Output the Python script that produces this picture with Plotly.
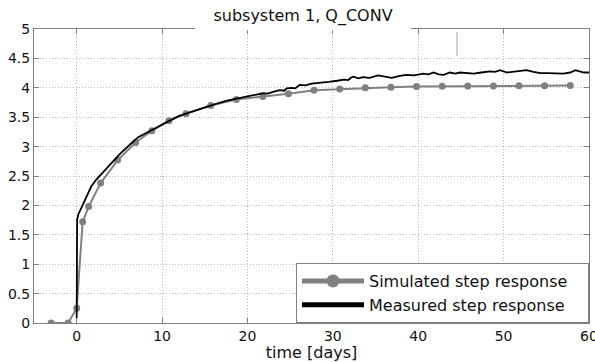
import plotly.graph_objects as go

# ---- data ----
sim_t = [-3, -1, 0, 0.7, 1.4, 2.8, 4.8, 6.9, 8.8, 10.8, 12.8, 15.7, 18.7, 21.8, 24.8,
         27.8, 30.8, 33.8, 36.8, 39.8, 42.8, 45.8, 48.8, 51.8, 54.8, 57.8]
sim_y = [0, 0, 0.25, 1.72, 1.98, 2.38, 2.77, 3.07, 3.27, 3.44, 3.56, 3.70, 3.80, 3.85, 3.90,
         3.96, 3.98, 4.00, 4.01, 4.02, 4.025, 4.03, 4.03, 4.035, 4.035, 4.04]

meas_t = [0, 0.02, 0.05, 0.2, 0.55, 1.0, 1.7, 2.3, 2.9, 3.6, 4.45, 5.1, 5.8, 6.5, 7.2, 8.0,
          9.0, 10.0, 10.9, 11.8, 12.8, 13.8, 14.7, 15.6, 16.6, 17.6, 18.7, 19.7, 20.6, 21.2,
          21.8, 22.4, 23.0, 23.8, 24.3, 24.6, 25.2, 25.6, 26.1, 26.8, 27.5, 28.5, 29.5, 30.5,
          31.3, 31.8, 32.1, 32.4, 33.0, 33.5, 34.3, 35.3, 36.1, 36.9, 37.7, 38.6, 39.5, 40.6,
          41.2, 41.8, 42.4, 43.0, 43.7, 44.3, 44.9, 45.7, 46.5, 47.4, 48.4, 49.0, 49.6, 50.4,
          51.2, 52.0, 52.7, 53.5, 54.3, 55.2, 56.2, 57.0, 57.8, 58.4, 58.9, 59.4, 60.0]
meas_y = [0.08, 1.0, 1.76, 1.85, 1.96, 2.10, 2.32, 2.44, 2.53, 2.65, 2.78, 2.88, 2.98, 3.07,
          3.16, 3.22, 3.30, 3.38, 3.45, 3.51, 3.56, 3.61, 3.65, 3.70, 3.74, 3.78, 3.81, 3.84,
          3.87, 3.89, 3.91, 3.90, 3.93, 3.96, 3.95, 3.99, 4.00, 3.99, 4.05, 4.04, 4.07, 4.08,
          4.10, 4.12, 4.14, 4.13, 4.17, 4.19, 4.16, 4.18, 4.17, 4.21, 4.19, 4.17, 4.20, 4.22,
          4.21, 4.24, 4.23, 4.26, 4.23, 4.22, 4.26, 4.24, 4.26, 4.25, 4.24, 4.26, 4.28, 4.27,
          4.30, 4.26, 4.27, 4.28, 4.30, 4.27, 4.25, 4.25, 4.24, 4.24, 4.26, 4.30, 4.28, 4.26, 4.26]

x_ticks = [0, 10, 20, 30, 40, 50, 60]
y_ticks = [0, 0.5, 1, 1.5, 2, 2.5, 3, 3.5, 4, 4.5, 5]

GRAY = "#808080"
FONT = "DejaVu Sans"

fig = go.Figure()
fig.add_trace(go.Scatter(x=sim_t, y=sim_y, mode="lines+markers",
                         line=dict(color=GRAY, width=2),
                         marker=dict(color=GRAY, size=7),
                         showlegend=False))
fig.add_trace(go.Scatter(x=meas_t, y=meas_y, mode="lines",
                         line=dict(color="black", width=1.8),
                         showlegend=False))
# legend-only entries (thicker samples)
fig.add_trace(go.Scatter(x=[None], y=[None], mode="lines+markers",
                         name="Simulated step response\u00a0\u00a0\u00a0",
                         line=dict(color=GRAY, width=5),
                         marker=dict(color=GRAY, size=13)))
fig.add_trace(go.Scatter(x=[None], y=[None], mode="lines",
                         name="Measured step response",
                         line=dict(color="black", width=5)))

axis_common = dict(showline=True, linecolor=GRAY, linewidth=1, mirror="ticks",
                   ticks="inside", ticklen=5, tickcolor=GRAY, automargin=False,
                   showgrid=True, gridcolor="#b8b8b8", griddash="1px,2px", gridwidth=1,
                   zeroline=False, tickfont=dict(family=FONT, size=14, color="#111"))

fig.update_xaxes(range=[-5, 60], tickvals=x_ticks, ticktext=[str(v) for v in x_ticks],
                 ticklabeloverflow="allow",
                 title=dict(text="time [days]", font=dict(family=FONT, size=16, color="#111"),
                            standoff=5),
                 **axis_common)
fig.update_yaxes(range=[0, 5], tickvals=y_ticks, ticktext=[f"{v:g}" for v in y_ticks],
                 **axis_common)

plot_w = 595 - 34 - 6
plot_h = 323.3 - 29.3
fig.add_shape(type="rect", xref="paper", yref="paper", layer="above",
              x0=(195 - 34) / plot_w, x1=(411 - 34) / plot_w,
              y0=1 - 1.2 / plot_h, y1=1 + 3 / plot_h,
              fillcolor="white", line=dict(width=0))
fig.add_shape(type="line", xref="paper", yref="paper", layer="above",
              x0=(457 - 34) / plot_w, x1=(457 - 34) / plot_w,
              y0=1 - 3 / plot_h, y1=1 - 27 / plot_h,
              line=dict(color="#a0a0a0", width=1))

fig.update_layout(
    width=595, height=362,
    margin=dict(l=34, r=6, t=29.3, b=38.7),
    paper_bgcolor="white", plot_bgcolor="white",
    title=dict(text="subsystem 1, Q_CONV", x=(303 - 0) / 595, xanchor="center",
               y=1 - 15 / 362, yanchor="middle",
               font=dict(family=FONT, size=16, color="#111")),
    font=dict(family=FONT, size=14, color="#111"),
    legend=dict(x=1, y=0, xanchor="right", yanchor="bottom",
                bgcolor="white", bordercolor=GRAY, borderwidth=1,
                font=dict(family=FONT, size=16, color="#111"),
                itemwidth=62, tracegroupgap=0),
)

fig.write_html("out.html")
